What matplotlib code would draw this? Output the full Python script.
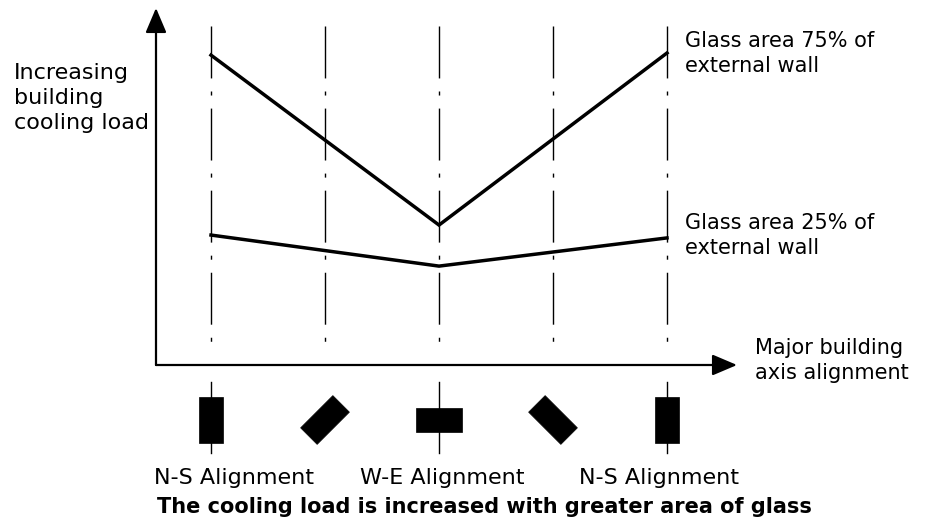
import matplotlib
matplotlib.use("Agg")
import matplotlib.pyplot as plt
from matplotlib.patches import Rectangle

# ---- data ----
alignments = [0, 1, 2, 3, 4]                 # building axis orientation positions
line_x = [0, 2, 4]                           # N-S, W-E, N-S
load_75 = [86.8, 39.2, 87.4]                 # glass area 75% of external wall
load_25 = [36.4, 27.7, 35.6]                 # glass area 25% of external wall
building_angles = [90, 45, 0, -45, 90]       # orientation of building icon (deg)
bottom_labels = ["N-S Alignment", "W-E Alignment", "N-S Alignment"]
y_label = "Increasing\nbuilding\ncooling load"
x_label = "Major building\naxis alignment"
label_75 = "Glass area 75% of\nexternal wall"
label_25 = "Glass area 25% of\nexternal wall"
caption = "The cooling load is increased with greater area of glass"

W, H = 927, 524
fig = plt.figure(figsize=(W / 100, H / 100), dpi=100)
plt.rcParams['font.family'] = ['DejaVu Sans']

def fx(px):
    return px / W

def fy(py):
    return 1 - py / H

# main axes: pixel box left 156, right 737, top 8, bottom 365
ax = fig.add_axes([fx(156), fy(365), fx(737 - 156), (365 - 8) / H])
ax.set_xlim(-0.4825, 4.614)
ax.set_ylim(0, 100)
ax.axis('off')

# dash-dot guide lines
for a in alignments:
    ax.plot([a, a], [95, 3], color='black', lw=1.0,
            linestyle=(0, (37.4, 9.4, 2.9, 9.4)), solid_capstyle='butt')

# data lines
ax.plot(line_x, load_75, color='black', lw=2.5, solid_joinstyle='miter')
ax.plot(line_x, load_25, color='black', lw=2.5, solid_joinstyle='miter')

# axes arrows
arrow = dict(arrowstyle='-|>,head_length=0.4,head_width=0.17', mutation_scale=38,
             lw=1.6, color='black', shrinkA=0, shrinkB=0)
ax.annotate('', xy=(0, 1), xytext=(0, 0), xycoords='axes fraction', arrowprops=arrow)
ax.annotate('', xy=(1, 0), xytext=(0, 0), xycoords='axes fraction', arrowprops=arrow)

# building icons axes (same x scale, equal aspect)
bx = fig.add_axes([fx(156), fy(455), fx(737 - 156), 80 / H])
bx.set_xlim(-0.4825, 4.614)
bx.set_ylim(0, 80 / 114)
bx.axis('off')
long_side, short_side = 0.40, 0.205
cy = 0.307
for a, ang in zip(alignments, building_angles):
    if ang in (0, 90):
        bx.plot([a, a], [cy - 0.29, cy + 0.335], color='black', lw=1.0)
    bx.add_patch(Rectangle((a - long_side / 2, cy - short_side / 2), long_side, short_side,
                           angle=ang, rotation_point='center', facecolor='black',
                           edgecolor='black', lw=0.5))

# texts
fig.text(fx(14), fy(63), y_label, fontsize=16, va='top', ha='left', linespacing=1.3)
fig.text(fx(685), fy(31), label_75, fontsize=15, va='top', ha='left', linespacing=1.3)
fig.text(fx(685), fy(213), label_25, fontsize=15, va='top', ha='left', linespacing=1.3)
fig.text(fx(755), fy(338), x_label, fontsize=15, va='top', ha='left', linespacing=1.3)
for cx, lab in zip([234, 442, 659], bottom_labels):
    fig.text(fx(cx), fy(468), lab, fontsize=16, va='top', ha='center')
fig.text(fx(484), fy(497), caption, fontsize=15, fontweight='bold', va='top', ha='center')

fig.savefig("out.png", dpi=100)
